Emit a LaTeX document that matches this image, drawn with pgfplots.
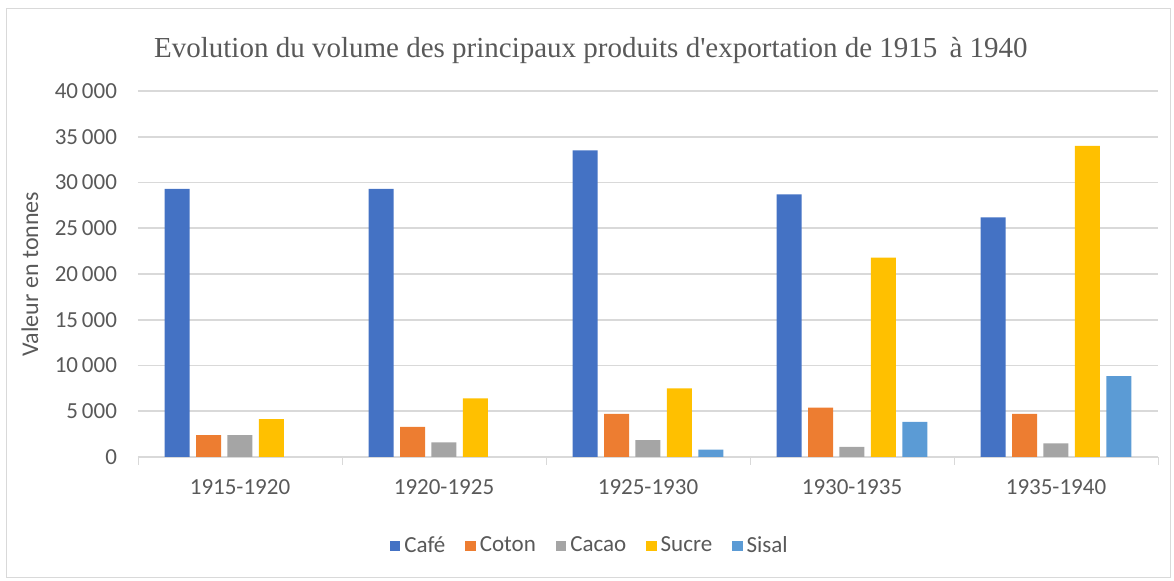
\documentclass[border=0pt]{standalone}
\usepackage{fontspec}
\setmainfont{Carlito}
\newfontfamily\titlefont{Liberation Serif}
\usepackage{pgfplots}
\pgfplotsset{compat=1.18}
\definecolor{cafe}{HTML}{4472C4}
\definecolor{coton}{HTML}{ED7D31}
\definecolor{cacao}{HTML}{A5A5A5}
\definecolor{sucre}{HTML}{FFC000}
\definecolor{sisal}{HTML}{5B9BD5}
\definecolor{gridgray}{HTML}{D9D9D9}
\definecolor{txtgray}{HTML}{595959}

\begin{document}
\begin{tikzpicture}
\useasboundingbox (-69pt,-62pt) rectangle (518pt,228.5pt);
\draw[gridgray] (-66pt,-60pt) rectangle (516pt,224.5pt);
\begin{axis}[
    at={(0,0)}, anchor=south west,
    scale only axis,
    width=510pt, height=183pt,
    ybar=3.2pt, bar width=12.5pt,
    xmin=-0.5, xmax=4.5,
    ymin=0, ymax=40000,
    xtick={0,1,2,3,4},
    xticklabels={1915-1920,1920-1925,1925-1930,1930-1935,1935-1940},
    ytick={0,5000,...,40000},
    scaled y ticks=false,
    extra x ticks={-0.5,0.5,1.5,2.5,3.5,4.5},
    extra x tick labels={},
    extra x tick style={grid=none, tick align=outside, major tick length=4pt,
        tick style={gridgray}},
    major tick length=0pt,
    axis x line=bottom, axis y line=left,
    x axis line style={draw=gridgray, -},
    y axis line style={draw=none},
    ymajorgrids, grid style={gridgray, line width=0.8pt},
    yticklabel={\pgfmathprintnumber[fixed, precision=0, 1000 sep={\,}, assume math mode=true]{\tick}},
    tick label style={font=\fontsize{11.5}{12}\selectfont, text=txtgray},
    yticklabel style={xshift=-7pt},
    xticklabel style={yshift=-8pt},
    ylabel={Valeur en tonnes},
    ylabel style={at={(axis description cs:-0.106,0.5)}, anchor=center,
        font=\fontsize{12}{13}\selectfont, text=txtgray},
    title={Evolution du volume des principaux produits d'exportation de 1915 \,à 1940},
    title style={at={(axis description cs:0.444,1.078)}, anchor=center,
        font=\titlefont\fontsize{14.5}{16}\selectfont, text=txtgray},
    legend columns=-1,
    legend style={at={(0.444,-0.243)}, anchor=center, draw=none,
        font=\fontsize{11.5}{12}\selectfont, text=txtgray,
        /tikz/every even column/.append style={column sep=8pt}},
    legend image code/.code={\fill[#1] (0pt,-2.6pt) rectangle (5.2pt,2.6pt);},
]
\addplot[fill=cafe, draw=none] coordinates {(0,29300) (1,29300) (2,33500) (3,28700) (4,26200)};
\addlegendentry{Café}
\addplot[fill=coton, draw=none] coordinates {(0,2400) (1,3300) (2,4700) (3,5400) (4,4700)};
\addlegendentry{Coton}
\addplot[fill=cacao, draw=none] coordinates {(0,2400) (1,1600) (2,1850) (3,1100) (4,1500)};
\addlegendentry{Cacao}
\addplot[fill=sucre, draw=none] coordinates {(0,4150) (1,6400) (2,7500) (3,21800) (4,34000)};
\addlegendentry{Sucre}
\addplot[fill=sisal, draw=none] coordinates {(2,800) (3,3850) (4,8850)};
\addlegendentry{Sisal}
\end{axis}
\end{tikzpicture}
\end{document}
